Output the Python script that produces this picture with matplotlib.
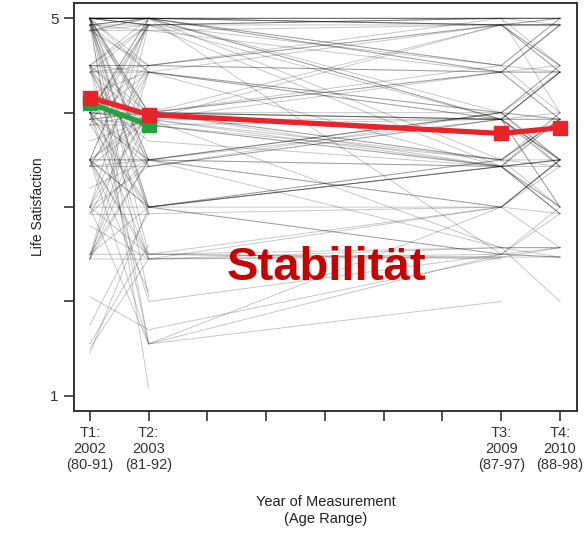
import numpy as np
import matplotlib.pyplot as plt

plt.rcParams['font.family'] = ['Liberation Sans', 'DejaVu Sans']

# measurement years and labels
years = [2002, 2003, 2009, 2010]
year_labels = ['T1:\n2002\n(80-91)', 'T2:\n2003\n(81-92)', 'T3:\n2009\n(87-97)', 'T4:\n2010\n(88-98)']
nan = np.nan

# individual trajectories (one entry per person, T1..T4)
t1 = [5.00, 5.00, 4.93, 5.00, 5.00, 4.93, 5.00, 5.00, 5.00, 4.93,
      5.00, 5.00, 4.87, 5.00, 5.00, 4.93, 5.00, 5.00, 4.93, 5.00,
      5.00, 4.87, 5.00, 5.00, 4.93, 5.00, 4.93, 5.00, 4.87, 5.00,
      4.50, 4.43, 4.50, 4.50, 4.43, 4.50, 4.50, 4.43, 4.50, 4.43, 4.50, 4.50,
      4.00, 3.93, 4.00, 3.87, 4.00, 4.00, 3.93, 4.00, 4.00, 3.93, 4.00, 3.87, 4.00, 3.93, 4.00, 4.00, 3.87, 4.20,
      3.50, 3.43, 3.50, 3.50, 3.43, 3.50, 3.50, 3.43, 3.50, 3.50, 3.43, 3.50, 3.50,
      3.00, 2.93, 3.00, 3.00, 3.00, 2.93, 3.00, 3.00,
      2.45, 2.50, 2.45, 2.50, 2.45, 2.50, 2.45,
      2.05, 1.45, 1.50, 1.55,
      5.00, 5.00, 4.93, 5.00, 4.87, 5.00, 5.00, 4.93, 5.00, 4.87,
      4.50, 4.43, 4.50, 4.20, 4.20, 4.00, 3.93, 4.00, 3.87, 4.00,
      3.70, 3.50, 3.43, 3.50, 3.20, 3.00, 2.93, 2.80, 2.50, 2.45,
      5.00, 4.93, 5.00, 4.50, 4.00, 3.50, 3.93, 1.75]
t2 = [5.00, 5.00, 5.00, 4.93, 5.00, 4.93, 5.00, 4.50, 4.00, 3.50,
      3.00, 2.50, 5.00, 5.00, 4.93, 4.00, 3.50, 2.05, 1.55, 1.08,
      5.00, 4.87, 5.00, 4.43, 5.00, 5.00, 4.87, 4.93, 5.00, 3.93,
      4.50, 4.50, 4.00, 5.00, 3.50, 4.43, 3.00, 4.93, 1.55, 4.43, 3.93, 2.45,
      4.00, 4.00, 3.93, 4.00, 4.50, 5.00, 3.50, 3.00, 4.00, 3.87, 2.45, 4.93, 2.00, 4.43, 3.93, 5.00, 3.87, 4.00,
      3.50, 3.50, 4.00, 3.00, 4.50, 5.00, 2.50, 3.43, 4.93, 2.10, 3.93, 3.50, 1.55,
      3.00, 3.50, 4.00, 2.50, 5.00, 2.93, 4.43, 1.55,
      2.45, 3.00, 3.50, 4.00, 4.93, 2.50, 3.87,
      1.70, 3.00, 2.45, 2.60,
      5.00, 5.00, 5.00, 4.93, 4.50, 3.43, 2.93, 4.43, 3.87, 4.93,
      4.50, 3.87, 4.93, 3.70, 4.43, 3.43, 4.00, 4.93, 3.00, 3.50,
      3.93, 3.93, 4.43, 3.00, 3.50, 3.43, 4.00, 2.45, 3.50, 4.43,
      4.00, 3.00, 5.00, 3.43, 2.93, 2.45, 4.93, 2.95]
t3 = [5.00, 4.93, 5.00, 4.50, 4.00, 5.00, 3.50, 4.93, 4.50, 4.00,
      3.50, 2.45, 3.93, nan, nan, nan, nan, nan, nan, nan,
      5.00, 4.93, 3.93, 3.43, 2.50, 4.93, 4.43, 3.43, nan, 3.93,
      4.43, 5.00, 3.93, 4.50, 3.43, nan, nan, nan, 2.00, 3.93, 4.93, 3.00,
      4.00, 3.50, 4.43, 3.93, 4.93, 4.43, 3.00, 3.43, nan, nan, nan, nan, 2.50, 4.00, 2.57, 5.00, 3.93, 3.93,
      3.43, 4.00, 3.50, 3.00, 4.43, 4.93, 3.00, nan, nan, nan, 3.43, 2.57, 2.50,
      3.43, 3.00, 3.93, 2.57, 4.50, nan, nan, 3.00,
      2.57, 3.43, 4.00, 4.93, nan, 2.47, 3.43,
      2.47, 3.50, 2.50, nan,
      4.93, nan, nan, 5.00, nan, 3.93, nan, 4.00, 3.50, 3.93,
      nan, 3.43, 4.93, 3.43, nan, 3.93, 4.43, nan, 2.50, nan,
      3.50, nan, 4.93, 3.43, 3.93, nan, 4.43, 2.47, nan, 3.93,
      3.43, 2.50, 4.43, 4.00, 3.00, nan, 5.00, nan]
t4 = [5.00, 5.00, 4.50, 4.43, 4.50, 5.00, 3.93, 5.00, 5.00, 3.50,
      4.00, nan, 3.43, nan, nan, nan, nan, nan, nan, nan,
      4.00, 4.93, 3.43, 2.93, 2.47, 4.93, 4.93, 3.50, nan, 3.00,
      4.50, 5.00, 4.43, 4.00, 3.50, nan, nan, nan, nan, 3.93, 4.93, 2.57,
      3.93, 3.50, 3.93, 3.00, 4.50, 4.93, 3.50, 2.93, nan, nan, nan, nan, 2.47, 4.43, 2.57, 4.93, 4.00, 3.50,
      3.50, 4.50, 3.00, 2.93, 3.93, 4.93, 3.50, nan, nan, nan, 4.00, 2.57, 2.93,
      2.93, 3.50, 4.43, 2.00, 5.00, nan, nan, 3.43,
      2.47, 3.00, 3.50, 4.43, nan, 2.57, 3.93,
      nan, 3.43, nan, nan,
      4.50, nan, nan, 5.00, nan, 4.43, nan, 3.43, 3.93, 3.93,
      nan, 3.93, 4.43, 3.00, nan, 3.50, 4.43, nan, 3.00, nan,
      3.93, nan, 4.93, 3.43, 3.50, nan, 4.93, 2.47, nan, 4.43,
      3.50, 2.57, 4.43, 3.93, 3.50, nan, 5.00, nan]

# group means
mean_all = [4.16, 3.98, 3.78, 3.84]
mean_green = [4.10, 3.87]

fig = plt.figure(figsize=(5.87, 5.33), dpi=100)
ax = fig.add_axes([0.126, 0.229, 0.857, 0.765])

for a, b, c, d in zip(t1, t2, t3, t4):
    ax.plot(years, [a, b, c, d], color='black', alpha=0.22, lw=0.7)

ax.plot(years, mean_all, color='#e8232a', lw=3.8, marker='s', ms=9.5,
        solid_capstyle='round', zorder=5)
ax.plot(years[:2], mean_green, color='#22a23c', lw=3.8, marker='s', ms=9.5, zorder=4)

ax.text(2006.03, 2.23, 'Stabilität', color='#c80000', fontsize=34,
        fontweight='bold', ha='center', va='baseline', zorder=6)

ax.set_xlim(2001.73, 2010.29)
ax.set_ylim(0.84, 5.16)
ax.set_xticks(range(2002, 2011))
ax.set_xticklabels([year_labels[years.index(y)] if y in years else '' for y in range(2002, 2011)],
                   fontsize=10.5, color='#222222', linespacing=1.15)
ax.set_yticks([1, 2, 3, 4, 5])
ax.set_yticklabels(['1', '', '', '', '5'], fontsize=11, color='#222222')
ax.tick_params(direction='out', length=7, width=1.2, colors='#333333', pad=4)
for s in ax.spines.values():
    s.set_linewidth(1.4)
    s.set_color('#333333')

ax.set_ylabel('Life Satisfaction', fontsize=10, labelpad=4, color='#222222')
ax.set_xlabel('Year of Measurement\n(Age Range)', fontsize=10.5, labelpad=17,
              color='#222222', linespacing=1.3)

fig.savefig('out.png', dpi=100)
